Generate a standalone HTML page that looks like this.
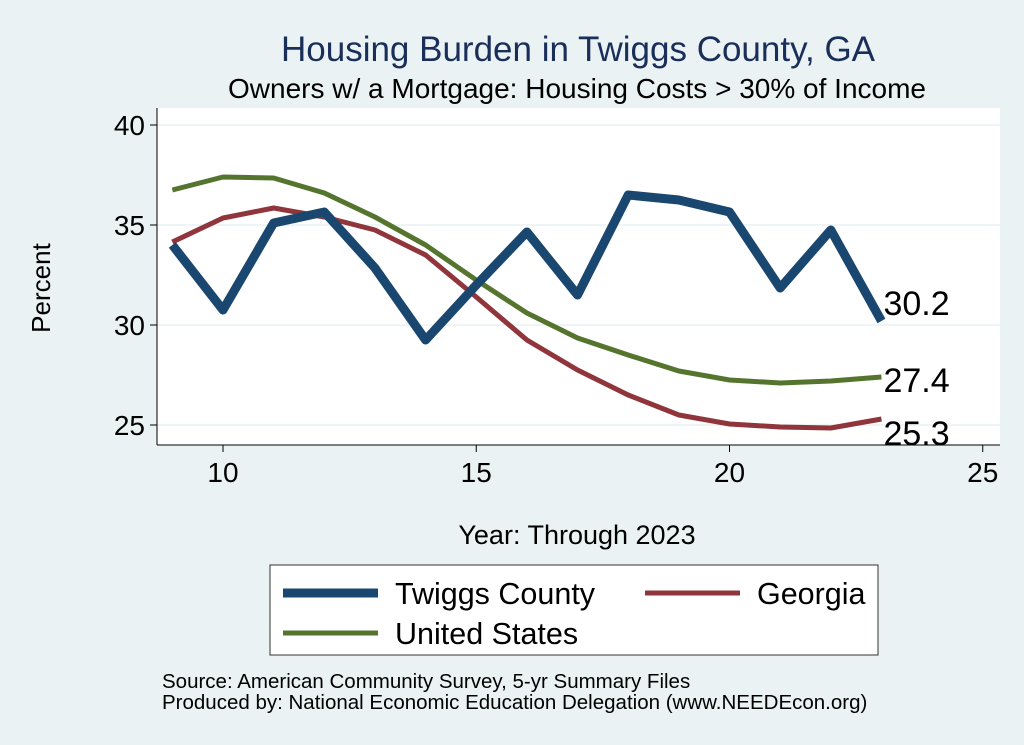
<!DOCTYPE html>
<html><head><meta charset="utf-8"><style>
body{margin:0;background:#eaf2f3;}
svg{display:block;font-family:"Liberation Sans",Arial,sans-serif;}
</style></head><body>
<svg id="c" width="1024" height="745" viewBox="0 0 1024 745">
<rect x="0" y="0" width="1024" height="745" fill="#eaf2f3"/>
<rect x="157" y="108" width="843" height="337" fill="#ffffff"/>
<text x="578" y="61" text-anchor="middle" font-size="35" fill="#1a2e5a">Housing Burden in Twiggs County, GA</text>
<text x="577" y="98" text-anchor="middle" font-size="28" fill="#000">Owners w/ a Mortgage: Housing Costs &gt; 30% of Income</text>
<text x="50" y="288" text-anchor="middle" font-size="26" transform="rotate(-90 50 288)">Percent</text>
<text x="577" y="544" text-anchor="middle" font-size="27">Year: Through 2023</text>
<g id="grid"></g><g id="axes"></g><g id="lines"></g><g id="labels"></g>
<rect x="270" y="565" width="608" height="90" fill="#fff" stroke="#333" stroke-width="1"/>
<g><line x1="283" y1="593" x2="378" y2="593" stroke="#1a476f" stroke-width="9"/><text x="395" y="604" font-size="30.5">Twiggs County</text></g>
<g><line x1="645" y1="593" x2="740" y2="593" stroke="#90353b" stroke-width="5"/><text x="757" y="604" font-size="30.5">Georgia</text></g>
<g><line x1="283" y1="633" x2="378" y2="633" stroke="#55752f" stroke-width="5"/><text x="395" y="644" font-size="30.5">United States</text></g>
<text x="162" y="688" font-size="20.5">Source: American Community Survey, 5-yr Summary Files</text>
<text x="162" y="709" font-size="20.5">Produced by: National Economic Education Delegation (www.NEEDEcon.org)</text>
</svg>
<script>
const years=[9,10,11,12,13,14,15,16,17,18,19,20,21,22,23];
const twiggs=[34.0,30.75,35.1,35.65,32.85,29.25,32.0,34.65,31.5,36.5,36.25,35.65,31.85,34.75,30.2];
const georgia=[34.15,35.35,35.85,35.4,34.75,33.5,31.4,29.25,27.75,26.5,25.5,25.05,24.9,24.85,25.3];
const us=[36.75,37.4,37.35,36.6,35.4,34.0,32.25,30.6,29.35,28.5,27.7,27.25,27.1,27.2,27.4];
const xTicks=[10,15,20,25];
const yTicks=[25,30,35,40];
const NS="http://www.w3.org/2000/svg";
const X=v=>223+(v-10)*50.65;
const Y=v=>125+(40-v)*20;
function mk(t,a,p){const e=document.createElementNS(NS,t);for(const k in a)e.setAttribute(k,a[k]);p.appendChild(e);return e;}
const grid=document.getElementById('grid'),axes=document.getElementById('axes'),lines=document.getElementById('lines'),labels=document.getElementById('labels');
yTicks.forEach(v=>{
 const g=mk('line',{x1:157,x2:1000,y1:Y(v),y2:Y(v),stroke:'#eaf2f3','stroke-width':1.5},grid);
 
 
 const t=mk('line',{x1:150,x2:157,y1:Y(v),y2:Y(v),stroke:'#000'},axes);
 
 
 const l=mk('text',{x:145,y:Y(v)+10,'text-anchor':'end','font-size':28},axes);l.textContent=v;
 
 
});
mk('line',{x1:157,x2:157,y1:108,y2:445,stroke:'#000'},axes);
mk('line',{x1:157,x2:1000,y1:445,y2:445,stroke:'#000'},axes);
xTicks.forEach(v=>{
 const t=mk('line',{x1:X(v),x2:X(v),y1:445,y2:452,stroke:'#000'},axes);
 
 
 const l=mk('text',{x:X(v),y:482,'text-anchor':'middle','font-size':28},axes);l.textContent=v;
 
 
});
function draw(vals,col,w,name){
 const p=mk('polyline',{points:vals.map((v,i)=>X(years[i])+','+Y(v)).join(' '),fill:'none',stroke:col,'stroke-width':w,'stroke-linejoin':'round'},lines);
 
 
}
draw(us,'#55752f',5,'line-united-states');
draw(georgia,'#90353b',5,'line-georgia');
draw(twiggs,'#1a476f',9,'line-twiggs-county');
const ends=[[twiggs,-6],[us,15],[georgia,26]];
ends.forEach(([s,dy])=>{
 const v=s[s.length-1];
 const l=mk('text',{x:X(years[years.length-1])+2,y:Y(v)+dy,'font-size':34},labels);
 l.textContent=v.toFixed(1);
 
 
});
</script>
</body></html>
